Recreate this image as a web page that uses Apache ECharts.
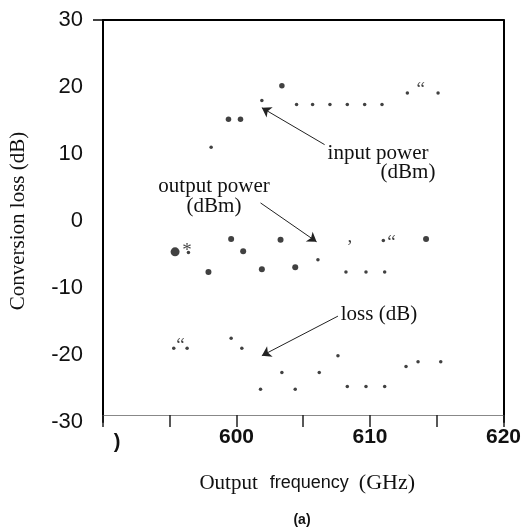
<!DOCTYPE html>
<html><head><meta charset="utf-8">
<script src="https://cdn.jsdelivr.net/npm/echarts@6/dist/echarts.min.js"></script>
<style>html,body{margin:0;padding:0;background:#fff}#c{width:524px;height:528px}</style>
</head><body><div id="c"></div>
<script>
// ---- data ----
const xTickLabels = [600, 610, 620];
const yTickLabels = [-30, -20, -10, 0, 10, 20, 30];

const inputPowerSmall = [[598.1,11.0],[601.9,18.0],[604.5,17.4],[605.7,17.4],[607.0,17.4],[608.3,17.4],[609.6,17.4],[610.9,17.4],[612.8,19.1],[615.1,19.1]];
const inputPowerLarge = [[599.4,15.2],[600.3,15.2],[603.4,20.2]];

const outputPowerLarge = [[595.4,-4.6]];
const outputPowerMedium = [[599.6,-2.7],[600.5,-4.5],[597.9,-7.6],[603.3,-2.8],[601.9,-7.2],[604.4,-6.9],[614.2,-2.7]];
const outputPowerSmall = [[596.4,-4.7],[606.1,-5.8],[611.0,-2.9],[608.2,-7.6],[609.7,-7.6],[611.1,-7.6]];

const lossPoints = [[595.3,-19.0],[596.3,-19.0],[599.6,-17.5],[600.4,-19.0],[601.8,-25.1],[603.4,-22.6],[604.4,-25.1],[606.2,-22.6],[607.6,-20.1],[608.3,-24.7],[609.7,-24.7],[611.1,-24.7],[612.7,-21.7],[613.6,-21.0],[615.3,-21.0]];

// stray printed glyphs in the scan: [x, y, glyph]
const glyphMarks = [[613.8,19.6,'\u201C'],[596.3,-4.5,'*'],[608.5,-2.4,','],[611.6,-3.3,'\u201C'],[595.8,-18.7,'\u201C']];

// annotation arrows: [tail, head]
const arrowInput = [[606.6,11.4],[601.9,16.9]];
const arrowOutput = [[601.8,2.7],[606.0,-3.1]];
const arrowLoss = [[607.6,-14.2],[601.9,-20.1]];

const SERIF = '"Liberation Serif", "Times New Roman", serif';
const SANS = '"Liberation Sans", Arial, sans-serif';

const chart = echarts.init(document.getElementById('c'), null, {renderer:'canvas'});

function dotSeries(data, size){
  return {type:'scatter', data:data, symbol:'circle', symbolSize:size,
    itemStyle:{color:'#111'}, silent:true, z:3};
}
function arrowPair(a){ return [{coord:a[0]},{coord:a[1]}]; }

const option = {
  animation:false,
  backgroundColor:'#fff',
  grid:{left:100, right:19, top:20, bottom:106},
  xAxis:[{
    type:'value', position:'bottom', min:590, max:620, interval:5, offset:-7,
    axisLine:{show:true, onZero:false, lineStyle:{color:'#888', width:1}},
    axisTick:{show:true, length:12, lineStyle:{color:'#222', width:1.5}},
    axisLabel:{formatter:function(v){ return xTickLabels.indexOf(v) >= 0 ? String(v) : ''; },
      fontFamily:SANS, fontWeight:'bold', fontSize:21, color:'#111', margin:12},
    splitLine:{show:false},
    name:'{a|Output}{b|frequency}{c|(GHz)}', nameLocation:'middle', nameGap:57,
    nameTextStyle:{rich:{
      a:{fontFamily:SERIF, fontSize:21, color:'#111', padding:[0,12,0,8]},
      b:{fontFamily:SANS, fontSize:18, color:'#111', padding:[0,10,0,0]},
      c:{fontFamily:SERIF, fontSize:22, color:'#111'}
    }}
  },{
    type:'value', position:'top', min:590, max:620, interval:5,
    axisLine:{show:true, onZero:false, lineStyle:{color:'#000', width:2}},
    axisTick:{show:false}, axisLabel:{show:false}, splitLine:{show:false}
  }],
  yAxis:[{
    type:'value', position:'left', min:yTickLabels[0], max:yTickLabels[yTickLabels.length-1], interval:10,
    axisLine:{show:true, onZero:false, lineStyle:{color:'#000', width:2}},
    axisTick:{show:true, customValues:[30], length:10, lineStyle:{color:'#000', width:1.5}},
    axisLabel:{fontFamily:SANS, fontSize:22, color:'#111', margin:20},
    splitLine:{show:false},
    name:'Conversion loss (dB)', nameLocation:'middle', nameGap:74,
    nameTextStyle:{fontFamily:SERIF, fontSize:21, color:'#111'}
  },{
    type:'value', position:'right', min:-30, max:30, interval:10,
    axisLine:{show:true, onZero:false, lineStyle:{color:'#000', width:2}},
    axisTick:{show:false}, axisLabel:{show:false}, splitLine:{show:false}
  }],
  series:[
    dotSeries(inputPowerSmall, 3.5),
    dotSeries(inputPowerLarge, 5.5),
    dotSeries(outputPowerLarge, 9),
    dotSeries(outputPowerMedium, 6),
    dotSeries(outputPowerSmall, 3.5),
    Object.assign(dotSeries(lossPoints, 3.5), {
      markLine:{silent:true, symbol:['none','arrow'], symbolSize:9, animation:false,
        label:{show:false}, lineStyle:{type:'solid', color:'#222', width:1},
        itemStyle:{color:'#222'},
        emphasis:{disabled:true},
        data:[arrowPair(arrowInput), arrowPair(arrowOutput), arrowPair(arrowLoss)]}
    }),
    {type:'scatter', data:glyphMarks, symbol:'circle', symbolSize:1,
      itemStyle:{color:'rgba(0,0,0,0)'}, silent:true, z:4,
      label:{show:true, position:'inside', formatter:function(p){return p.data[2];},
        fontFamily:SERIF, fontSize:19, color:'#111'}}
  ],
  graphic:[
    {type:'text', z:10, style:{text:'input power', x:378, y:153, font:'21px '+SERIF, fill:'#111', textAlign:'center', textVerticalAlign:'middle'}},
    {type:'text', z:10, style:{text:'(dBm)', x:408, y:172, font:'21px '+SERIF, fill:'#111', textAlign:'center', textVerticalAlign:'middle'}},
    {type:'text', z:10, style:{text:'output power', x:214, y:186, font:'21px '+SERIF, fill:'#111', textAlign:'center', textVerticalAlign:'middle'}},
    {type:'text', z:10, style:{text:'(dBm)', x:214, y:206, font:'21px '+SERIF, fill:'#111', textAlign:'center', textVerticalAlign:'middle'}},
    {type:'text', z:10, style:{text:'loss (dB)', x:379, y:314, font:'21px '+SERIF, fill:'#111', textAlign:'center', textVerticalAlign:'middle'}},
    {type:'text', z:10, style:{text:')', x:117, y:442, font:'bold 20px '+SANS, fill:'#111', textAlign:'center', textVerticalAlign:'middle'}},
    {type:'text', z:10, style:{text:'(a)', x:302, y:520, font:'bold 14px '+SANS, fill:'#111', textAlign:'center', textVerticalAlign:'middle'}}
  ]
};
chart.setOption(option);
</script>
</body></html>
